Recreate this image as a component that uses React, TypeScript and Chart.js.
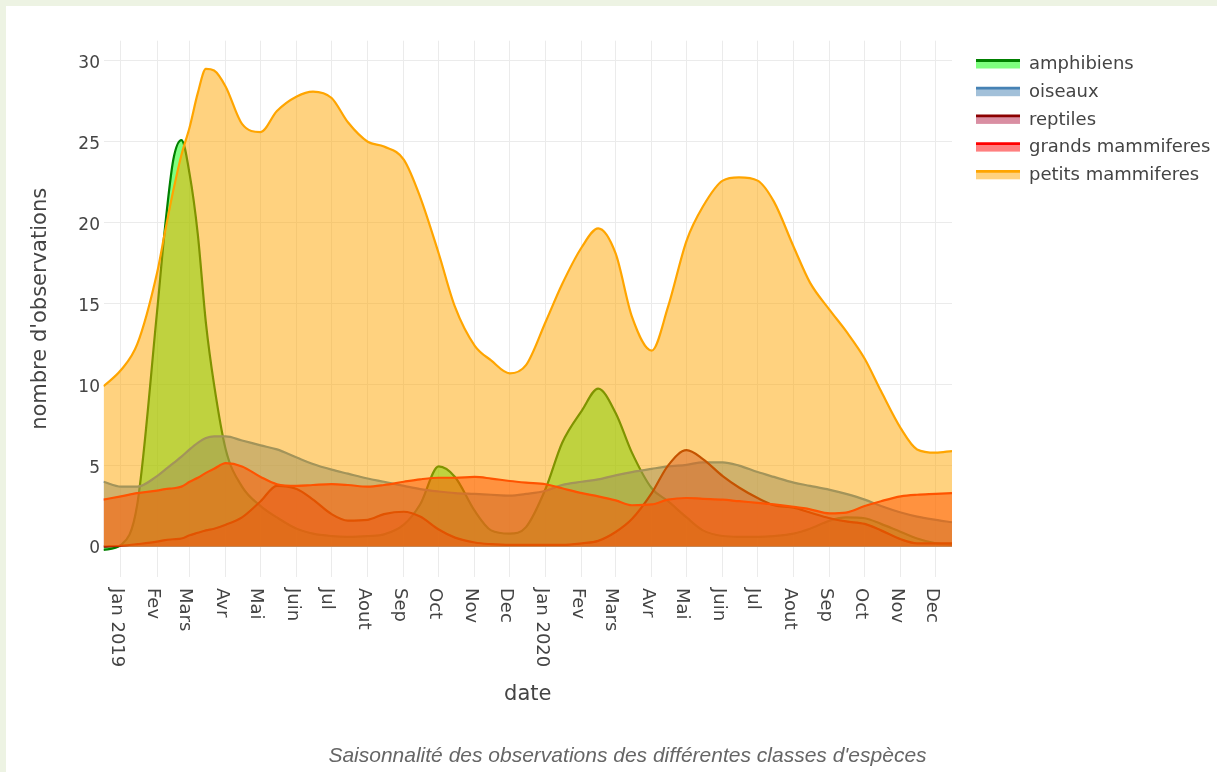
import React, { useEffect, useRef } from 'react';
import { Chart, registerables } from 'chart.js';

Chart.register(...registerables);

const dates = [
  '2018-12-17', '2019-01-01', '2019-01-15', '2019-02-01', '2019-02-08', '2019-02-15', '2019-02-22',
  '2019-03-01', '2019-03-08', '2019-03-15', '2019-03-22', '2019-04-01', '2019-04-15', '2019-05-01',
  '2019-05-15', '2019-06-01', '2019-06-15', '2019-07-01', '2019-07-15', '2019-08-01', '2019-08-15',
  '2019-09-01', '2019-09-15', '2019-10-01', '2019-10-15', '2019-11-01', '2019-11-15', '2019-12-01',
  '2019-12-15', '2020-01-01', '2020-01-15', '2020-02-01', '2020-02-15', '2020-03-01', '2020-03-15',
  '2020-04-01', '2020-04-15', '2020-05-01', '2020-05-15', '2020-06-01', '2020-06-15', '2020-07-01',
  '2020-07-15', '2020-08-01', '2020-08-15', '2020-09-01', '2020-09-15', '2020-10-01', '2020-10-15',
  '2020-11-01', '2020-11-15', '2020-12-01', '2020-12-15',
];

const amphibiens = [
  -0.2, 0.1, 2.6, 14.5, 19.8, 23.9, 25.1, 23.0, 19.3, 13.8, 10.0, 6.0, 3.7, 2.5, 1.8, 1.1, 0.8, 0.65,
  0.6, 0.65, 0.75, 1.35, 2.6, 4.95, 4.3, 2.2, 1.0, 0.8, 1.2,
  3.6, 6.4, 8.4, 9.75, 8.25, 5.8, 3.6, 2.8, 1.8, 1.0, 0.65, 0.6, 0.6, 0.65, 0.8, 1.1, 1.6, 1.8, 1.75,
  1.4, 0.9, 0.5, 0.2, 0.1,
];

const oiseaux = [
  4.0, 3.7, 3.7, 4.35, 4.75, 5.15, 5.55, 6.0, 6.4, 6.7, 6.8, 6.8, 6.55, 6.25, 6.0, 5.5, 5.1, 4.75,
  4.5, 4.2, 4.0, 3.75, 3.55, 3.4, 3.3, 3.25, 3.2, 3.15, 3.25,
  3.45, 3.8, 4.0, 4.15, 4.4, 4.6, 4.8, 4.95, 5.05, 5.2, 5.2, 5.0, 4.6, 4.3, 3.95, 3.75, 3.5, 3.25,
  2.9, 2.5, 2.1, 1.85, 1.65, 1.5,
];

const reptiles = [
  0.0, 0.05, 0.15, 0.3, 0.4, 0.45, 0.5, 0.7, 0.85, 1.0, 1.1, 1.35, 1.8, 2.8, 3.75, 3.55, 2.9, 2.0,
  1.6, 1.65, 2.0, 2.15, 1.85, 1.05, 0.55, 0.25, 0.15, 0.1, 0.1,
  0.1, 0.1, 0.2, 0.35, 0.9, 1.7, 3.3, 5.0, 5.95, 5.4, 4.35, 3.65, 3.0, 2.55, 2.4, 2.1, 1.75, 1.55,
  1.4, 1.0, 0.45, 0.2, 0.2, 0.2,
];

const grandsMammiferes = [
  2.9, 3.1, 3.3, 3.45, 3.55, 3.6, 3.7, 4.0, 4.25, 4.55, 4.8, 5.15, 4.95, 4.3, 3.85, 3.75, 3.8, 3.85,
  3.8, 3.7, 3.8, 4.0, 4.15, 4.25, 4.25, 4.3, 4.2, 4.05, 3.95,
  3.85, 3.6, 3.3, 3.1, 2.85, 2.55, 2.6, 2.9, 3.0, 2.95, 2.9, 2.8, 2.7, 2.6, 2.45, 2.3, 2.05, 2.1,
  2.5, 2.8, 3.1, 3.2, 3.25, 3.3,
];

const petitsMammiferes = [
  9.9, 10.9, 12.5, 16.9, 19.5, 22.0, 24.2, 25.9, 28.0, 29.5, 29.4, 28.4, 26.1, 25.6, 26.9, 27.8, 28.1,
  27.7, 26.2, 25.0, 24.7, 23.9, 21.6, 18.1, 14.8, 12.4, 11.5, 10.7, 11.2,
  13.9, 16.2, 18.5, 19.65, 18.1, 14.2, 12.1, 14.8, 18.9, 21.0, 22.6, 22.8, 22.6, 21.3, 18.5, 16.3,
  14.6, 13.3, 11.6, 9.6, 7.3, 6.0, 5.8, 5.9,
];

const seriesNames = ['amphibiens', 'oiseaux', 'reptiles', 'grands mammiferes', 'petits mammiferes'];
const seriesValues = [amphibiens, oiseaux, reptiles, grandsMammiferes, petitsMammiferes];
const lineColors = ['rgb(0,128,0)', 'rgb(70,130,180)', 'rgb(139,0,0)', 'rgb(255,0,0)', 'rgb(255,165,0)'];
const fillColors = [
  'rgba(0,255,0,0.5)',
  'rgba(70,130,180,0.5)',
  'rgba(180,30,70,0.5)',
  'rgba(255,0,0,0.5)',
  'rgba(255,165,0,0.5)',
];

const monthTicks = [
  '2019-01-01', '2019-02-01', '2019-03-01', '2019-04-01', '2019-05-01', '2019-06-01', '2019-07-01',
  '2019-08-01', '2019-09-01', '2019-10-01', '2019-11-01', '2019-12-01', '2020-01-01', '2020-02-01',
  '2020-03-01', '2020-04-01', '2020-05-01', '2020-06-01', '2020-07-01', '2020-08-01', '2020-09-01',
  '2020-10-01', '2020-11-01', '2020-12-01',
];
const monthLabels = [
  'Jan 2019', 'Fev', 'Mars', 'Avr', 'Mai', 'Juin', 'Jul', 'Aout', 'Sep', 'Oct', 'Nov', 'Dec',
  'Jan 2020', 'Fev', 'Mars', 'Avr', 'Mai', 'Juin', 'Jul', 'Aout', 'Sep', 'Oct', 'Nov', 'Dec',
];
const yTicks = [0, 5, 10, 15, 20, 25, 30];

const dayOf = (s: string) => {
  const [y, m, d] = s.split('-').map(Number);
  return (Date.UTC(y, m - 1, d) - Date.UTC(2019, 0, 1)) / 86400000;
};

const FONT = '"DejaVu Sans", Verdana, sans-serif';
const TEXT = '#444';

const xLabelPlugin = {
  id: 'xLabelPlugin',
  afterDraw(chart: any) {
    const { ctx, scales } = chart;
    const xs = scales.x;
    const top = chart.chartArea.bottom + 11;
    ctx.save();
    ctx.fillStyle = TEXT;
    ctx.font = `18px ${FONT}`;
    ctx.textAlign = 'left';
    ctx.textBaseline = 'middle';
    monthTicks.forEach((d, i) => {
      const x = xs.getPixelForValue(dayOf(d)) - 4.5;
      ctx.save();
      ctx.translate(x, top);
      ctx.rotate(Math.PI / 2);
      ctx.fillText(monthLabels[i], 0, 0);
      ctx.restore();
    });
    ctx.restore();
  },
};

const legendPlugin = {
  id: 'plotlyLegend',
  afterDraw(chart: any) {
    const { ctx } = chart;
    ctx.save();
    ctx.font = `18px ${FONT}`;
    ctx.textAlign = 'left';
    ctx.textBaseline = 'alphabetic';
    seriesNames.forEach((name, i) => {
      const base = 69.3 + i * 27.7;
      const ly = base - 8.8;
      ctx.fillStyle = fillColors[i];
      ctx.fillRect(976, ly, 44, 8);
      ctx.strokeStyle = lineColors[i];
      ctx.lineWidth = 2.8;
      ctx.beginPath();
      ctx.moveTo(976, ly);
      ctx.lineTo(1020, ly);
      ctx.stroke();
      ctx.fillStyle = TEXT;
      ctx.fillText(name, 1029, base);
    });
    ctx.restore();
  },
};

export default function App() {
  const ref = useRef<HTMLCanvasElement | null>(null);

  useEffect(() => {
    if (!ref.current) return;
    const datasets = seriesNames.map((name, si) => ({
      label: name,
      data: dates.map((d, i) => ({ x: dayOf(d), y: seriesValues[si][i] })),
      borderColor: lineColors[si],
      backgroundColor: fillColors[si],
      borderWidth: 2.2,
      fill: 'origin',
      pointRadius: 0,
      pointHoverRadius: 0,
      tension: 0.4,
      cubicInterpolationMode: 'monotone',
      order: seriesNames.length - si,
    }));

    const chart = new Chart(ref.current, {
      type: 'line',
      data: { datasets } as any,
      options: {
        responsive: false,
        animation: false,
        devicePixelRatio: 1,
        layout: { padding: { left: 0, top: 40.7, right: 265, bottom: 0 } },
        plugins: {
          legend: { display: false },
          tooltip: { enabled: false },
        },
        scales: {
          x: {
            type: 'linear',
            min: dayOf(dates[0]),
            max: dayOf(dates[dates.length - 1]),
            afterBuildTicks: (scale: any) => {
              scale.ticks = monthTicks.map((d) => ({ value: dayOf(d) }));
            },
            afterFit: (scale: any) => {
              scale.height = 195;
            },
            ticks: { display: false },
            grid: { color: '#ebebeb', lineWidth: 1, drawTicks: false },
            border: { display: false },
            title: {
              display: true,
              text: 'date',
              color: TEXT,
              font: { family: FONT, size: 21 },
              padding: { top: 0, bottom: 65 },
            },
          },
          y: {
            type: 'linear',
            min: -1.88,
            max: 31.24,
            afterBuildTicks: (scale: any) => {
              scale.ticks = yTicks.map((v) => ({ value: v }));
            },
            afterFit: (scale: any) => {
              scale.width = 103.5;
            },
            ticks: {
              color: TEXT,
              font: { family: FONT, size: 17 },
              padding: 3.5,
              labelOffset: 2.5,
            },
            grid: { color: '#ebebeb', lineWidth: 1, drawTicks: false },
            border: { display: false },
            title: {
              display: true,
              text: "nombre d'observations",
              color: TEXT,
              font: { family: FONT, size: 21 },
              padding: { top: 28, bottom: 0 },
            },
          },
        },
      } as any,
      plugins: [xLabelPlugin, legendPlugin],
    });
    return () => chart.destroy();
  }, []);

  return (
    <div
      style={{
        position: 'fixed',
        left: 0,
        top: 0,
        width: 1217,
        height: 772,
        background: '#edf3e3',
        overflow: 'hidden',
      }}
    >
      <div style={{ position: 'absolute', left: 6, top: 6, right: 0, bottom: 0, background: '#ffffff' }} />
      <canvas ref={ref} width={1217} height={772} style={{ position: 'absolute', left: 0, top: 0 }} />
      <div
        style={{
          position: 'absolute',
          left: 0,
          width: 1255,
          top: 744,
          textAlign: 'center',
          fontFamily: '"Liberation Sans", Arial, sans-serif',
          fontStyle: 'italic',
          fontSize: 21,
          lineHeight: '22px',
          color: '#666',
          whiteSpace: 'nowrap',
        }}
      >
        Saisonnalité des observations des différentes classes d'espèces
      </div>
    </div>
  );
}
